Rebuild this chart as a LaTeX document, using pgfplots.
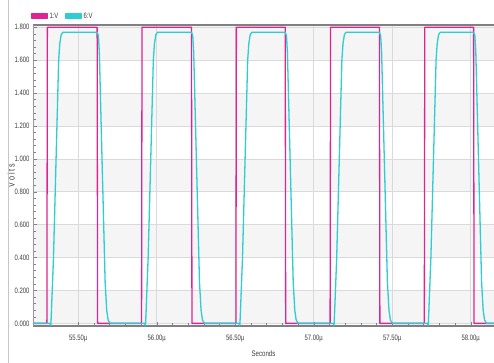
\documentclass[border=0pt]{standalone}
\usepackage{fontspec}
\setmainfont{Liberation Sans}[FakeStretch=0.76]
\usepackage{pgfplots}
\pgfplotsset{compat=1.18}
\definecolor{pinkline}{RGB}{222,36,146}
\definecolor{cyanline}{RGB}{45,205,210}
\definecolor{bandgray}{RGB}{245,245,245}
\definecolor{gridgray}{RGB}{218,218,218}
\definecolor{axgray}{RGB}{128,128,128}
\definecolor{labgray}{RGB}{60,60,60}
\begin{document}
\begin{tikzpicture}
\begin{axis}[
  set layers,
  scale only axis,
  width=461pt, height=301pt,
  xmin=55.2115, xmax=58.148,
  ymin=-0.016, ymax=1.814,
  axis x line*=box, axis y line*=left,
  xtick pos=bottom, ytick pos=left,
  tick align=inside,
  xtick={55.5,56,56.5,57,57.5,58},
  xticklabels={55.50µ,56.00µ,56.50µ,57.00µ,57.50µ,58.00µ},
  ytick={0,0.2,0.4,0.6,0.8,1.0,1.2,1.4,1.6,1.8},
  yticklabels={0.000,0.200,0.400,0.600,0.800,1.000,1.200,1.400,1.600,1.800},
  minor x tick num=4, minor y tick num=4,
  major tick length=4pt, minor tick length=2.5pt,
  every tick/.style={axgray, line width=0.5pt},
  grid=major,
  major grid style={gridgray, line width=0.6pt},
  x axis line style={axgray, line width=2.4pt},
  y axis line style={axgray!80, line width=0.6pt},
  xticklabel style={font=\fontsize{7.8}{8}\selectfont, text=labgray, yshift=-6pt},
  yticklabel style={font=\fontsize{7.8}{8}\selectfont, text=labgray},
  xlabel={Seconds}, ylabel={\addfontfeature{LetterSpace=20}Volts},
  xlabel style={font=\fontsize{8}{8}\selectfont, text=labgray, yshift=-1pt},
  ylabel style={font=\fontsize{9.5}{9}\selectfont, text=labgray, yshift=-7pt},
  legend columns=2,
  legend style={draw=none, fill=none, at={(rel axis cs:0,1)}, anchor=south west, xshift=-2pt, yshift=3pt,
    font=\fontsize{7.8}{8}\selectfont, text=labgray, inner sep=0pt,
    /tikz/every even column/.append style={column sep=5pt}},
  legend image code/.code={\fill[#1] (0pt,-2.5pt) rectangle (15pt,2.5pt);},
]
\addplot[fill=bandgray, draw=none, on layer=axis background, forget plot] coordinates {(55.2115,0) (58.148,0) (58.148,0.2) (55.2115,0.2)} -- cycle;
\addplot[fill=bandgray, draw=none, on layer=axis background, forget plot] coordinates {(55.2115,0.4) (58.148,0.4) (58.148,0.6) (55.2115,0.6)} -- cycle;
\addplot[fill=bandgray, draw=none, on layer=axis background, forget plot] coordinates {(55.2115,0.8) (58.148,0.8) (58.148,1.0) (55.2115,1.0)} -- cycle;
\addplot[fill=bandgray, draw=none, on layer=axis background, forget plot] coordinates {(55.2115,1.2) (58.148,1.2) (58.148,1.4) (55.2115,1.4)} -- cycle;
\addplot[fill=bandgray, draw=none, on layer=axis background, forget plot] coordinates {(55.2115,1.6) (58.148,1.6) (58.148,1.814) (55.2115,1.814)} -- cycle;
\addplot[pinkline, line width=1.3pt, line join=round] coordinates {
(55.2115,0) (55.300,0) (55.303,1.8) (55.620,1.8) (55.623,0)
(55.903,0) (55.906,1.8) (56.221,1.8) (56.224,0)
(56.504,0) (56.507,1.8) (56.818,1.8) (56.821,0)
(57.104,0) (57.107,1.8) (57.418,1.8) (57.421,0)
(57.704,0) (57.707,1.8) (58.018,1.8) (58.021,0) (58.148,0)
};
\addlegendentry{1:V}
\addplot[cyanline, line width=1.3pt, line join=round] coordinates {
(55.2115,0)
(55.318,0) (55.325,-0.012) (55.328,0.05) (55.342,0.4) (55.364,1.2) (55.375,1.6) (55.382,1.7) (55.391,1.755) (55.402,1.77)
(55.620,1.77) (55.628,1.75) (55.634,1.65) (55.671,0.25) (55.681,0.08) (55.690,0.02) (55.703,0)
(55.921,0) (55.928,-0.012) (55.931,0.05) (55.945,0.4) (55.967,1.2) (55.978,1.6) (55.985,1.7) (55.994,1.755) (56.005,1.77)
(56.221,1.77) (56.229,1.75) (56.235,1.65) (56.272,0.25) (56.282,0.08) (56.291,0.02) (56.304,0)
(56.522,0) (56.529,-0.012) (56.532,0.05) (56.546,0.4) (56.568,1.2) (56.579,1.6) (56.586,1.7) (56.595,1.755) (56.606,1.77)
(56.818,1.77) (56.826,1.75) (56.832,1.65) (56.869,0.25) (56.879,0.08) (56.888,0.02) (56.901,0)
(57.122,0) (57.129,-0.012) (57.132,0.05) (57.146,0.4) (57.168,1.2) (57.179,1.6) (57.186,1.7) (57.195,1.755) (57.206,1.77)
(57.418,1.77) (57.426,1.75) (57.432,1.65) (57.469,0.25) (57.479,0.08) (57.488,0.02) (57.501,0)
(57.722,0) (57.729,-0.012) (57.732,0.05) (57.746,0.4) (57.768,1.2) (57.779,1.6) (57.786,1.7) (57.795,1.755) (57.806,1.77)
(58.018,1.77) (58.026,1.75) (58.032,1.65) (58.069,0.25) (58.079,0.08) (58.088,0.02) (58.101,0) (58.148,0)
};
\addlegendentry{6:V}
\end{axis}
\draw[gray!45, line width=0.6pt] (-25pt,-37pt) -- (-25pt,326pt);
\pgfresetboundingbox
\useasboundingbox (-33pt,-37pt) rectangle (461pt,326pt);
\end{tikzpicture}
\end{document}
